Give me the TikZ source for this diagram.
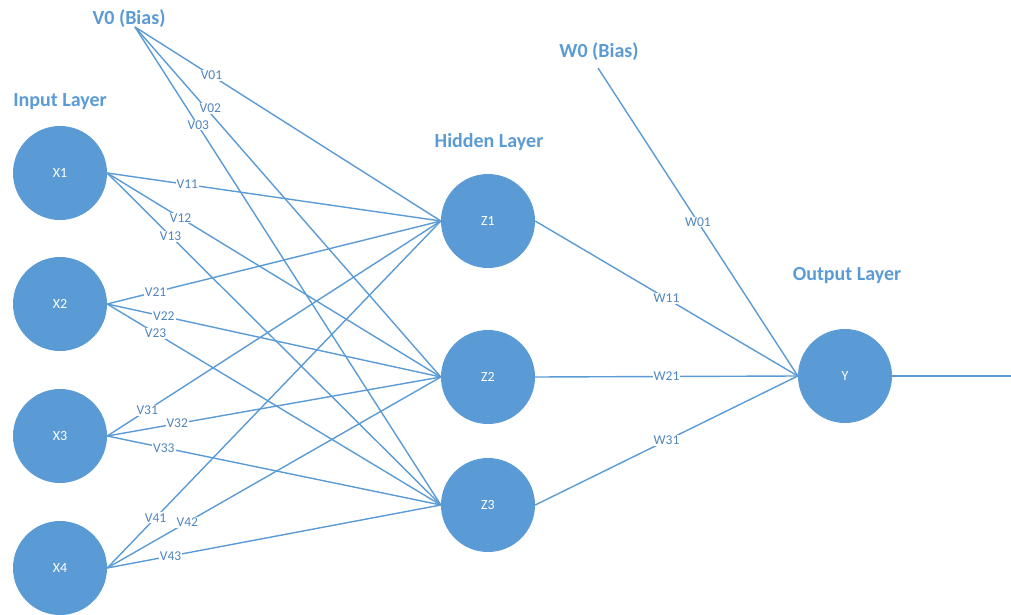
\documentclass[tikz,border=0pt]{standalone}
\usepackage{fontspec}
\setmainfont{Carlito}
\definecolor{nnblue}{HTML}{5B9BD5}
\definecolor{lblblue}{HTML}{5085BD}
\begin{document}
\begin{tikzpicture}[x=1pt,y=-1pt,
  neuron/.style={circle,fill=nnblue,draw=none,minimum size=94pt,inner sep=0pt,text=white,font=\fontsize{14}{14}\selectfont},
  title/.style={text=nnblue,font=\fontsize{20}{20}\selectfont\bfseries},
  wire/.style={draw=nnblue,line width=1.4pt},
  wlbl/.style={fill=white,inner sep=1pt,text=lblblue,font=\fontsize{13.5}{13.5}\selectfont}]
\useasboundingbox (0,0) rectangle (1011,615);
% nodes
\node[neuron] (x1) at (60,173) {X1};
\node[neuron] (x2) at (60,304) {X2};
\node[neuron] (x3) at (60,436) {X3};
\node[neuron] (x4) at (60,568) {X4};
\node[neuron] (z1) at (488,221) {Z1};
\node[neuron] (z2) at (488,377) {Z2};
\node[neuron] (z3) at (488,505) {Z3};
\node[neuron] (y) at (845,376) {Y};
% titles
\node[title] (tin) at (60,102) {Input Layer};
\node[title] (thid) at (489,142) {Hidden Layer};
\node[title] (tout) at (847,276) {Output Layer};
\node[title] (tv0) at (129,19) {V0 (Bias)};
\node[title] (tw0) at (599,52) {W0 (Bias)};
\coordinate (v0) at (135,27);
\coordinate (w0) at (598,68);
\coordinate (out) at (1011,376);
% bias V0
\draw[wire] (v0) -- node[wlbl,pos=0.25] {V01} (z1.west);
\draw[wire] (v0) -- node[wlbl,pos=0.23,xshift=5pt,yshift=-1pt] {V02} (z2.west);
\draw[wire] (v0) -- node[wlbl,pos=0.207,yshift=1pt] {V03} (z3.west);
% input to hidden
\draw[wire] (x1.east) -- node[wlbl,pos=0.24] {V11} (z1.west);
\draw[wire] (x1.east) -- node[wlbl,pos=0.22] {V12} (z2.west);
\draw[wire] (x1.east) -- node[wlbl,pos=0.19] {V13} (z3.west);
\draw[wire] (x2.east) -- node[wlbl,pos=0.145] {V21} (z1.west);
\draw[wire] (x2.east) -- node[wlbl,pos=0.17] {V22} (z2.west);
\draw[wire] (x2.east) -- node[wlbl,pos=0.145] {V23} (z3.west);
\draw[wire] (x3.east) -- node[wlbl,pos=0.12] {V31} (z1.west);
\draw[wire] (x3.east) -- node[wlbl,pos=0.21] {V32} (z2.west);
\draw[wire] (x3.east) -- node[wlbl,pos=0.17] {V33} (z3.west);
\draw[wire] (x4.east) -- node[wlbl,pos=0.145] {V41} (z1.west);
\draw[wire] (x4.east) -- node[wlbl,pos=0.24] {V42} (z2.west);
\draw[wire] (x4.east) -- node[wlbl,pos=0.19] {V43} (z3.west);
% hidden to output
\draw[wire] (w0) -- node[wlbl,pos=0.5] {W01} (y.west);
\draw[wire] (z1.east) -- node[wlbl,pos=0.5] {W11} (y.west);
\draw[wire] (z2.east) -- node[wlbl,pos=0.5] {W21} (y.west);
\draw[wire] (z3.east) -- node[wlbl,pos=0.5] {W31} (y.west);
\draw[wire] (y.east) -- (out);
\end{tikzpicture}
\end{document}
